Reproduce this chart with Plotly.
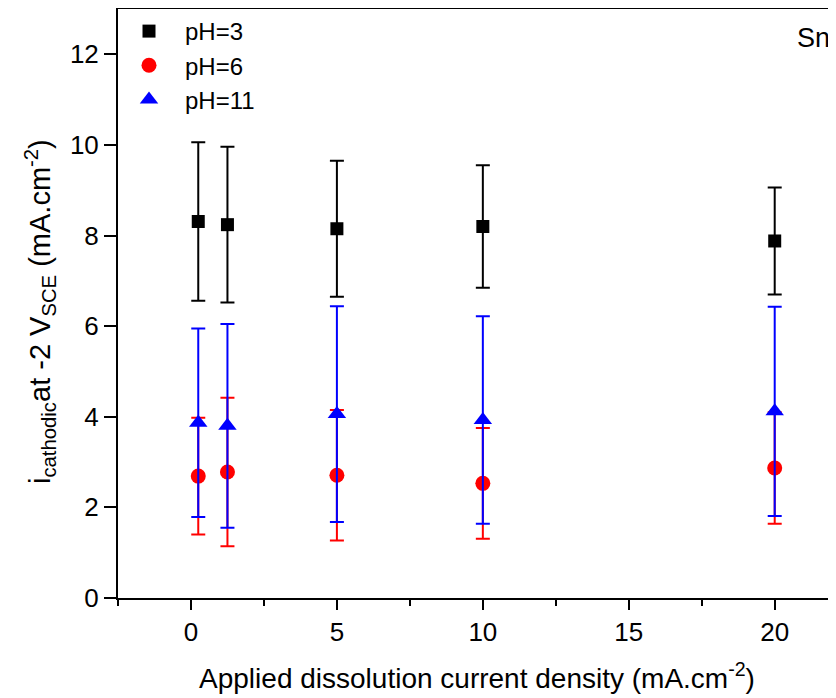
import plotly.graph_objects as go

x_vals = [0.25, 1.25, 5, 10, 20]

ph3_mean = [8.31, 8.24, 8.15, 8.20, 7.88]
ph3_err = [1.75, 1.72, 1.50, 1.35, 1.18]

ph6_mean = [2.69, 2.78, 2.71, 2.53, 2.87]
ph6_err = [1.29, 1.64, 1.44, 1.22, 1.23]

ph11_mean = [3.87, 3.80, 4.06, 3.93, 4.12]
ph11_err = [2.08, 2.25, 2.38, 2.29, 2.31]

series_names = ["pH=3", "pH=6", "pH=11"]
x_ticks = [0, 5, 10, 15, 20]
y_ticks = [0, 2, 4, 6, 8, 10, 12]

FONT = "Liberation Sans, Arial, sans-serif"

# page body adds an 8px offset; figure sized to fit the window
W, H = 828, 690
L, R, T, B = 110, 0, 1, 100
PW, PH = W - L - R, H - T - B

fig = go.Figure()

fig.add_trace(go.Scatter(
    x=x_vals, y=ph3_mean, mode="markers", name=series_names[0],
    marker=dict(symbol="square", size=13, color="black"),
    error_y=dict(type="data", array=ph3_err, color="black", thickness=2, width=7),
))
fig.add_trace(go.Scatter(
    x=x_vals, y=ph6_mean, mode="markers", name=series_names[1],
    marker=dict(symbol="circle", size=15, color="#ff0000"),
    error_y=dict(type="data", array=ph6_err, color="#ff0000", thickness=2, width=7),
))
fig.add_trace(go.Scatter(
    x=x_vals, y=ph11_mean, mode="markers", name=series_names[2],
    marker=dict(symbol="triangle-up", size=16, color="#0000ff"),
    error_y=dict(type="data", array=ph11_err, color="#0000ff", thickness=2, width=7),
))

fig.add_annotation(
    x=(787 - L) / PW, y=(H - B - 30) / PH, xref="paper", yref="paper", text="Sn",
    showarrow=False, xanchor="left", yanchor="middle",
    font=dict(size=27, color="black", family=FONT),
)

# y-axis title as rotated annotation so its centre can match the reference
fig.add_annotation(
    x=(32 - L) / PW, y=(H - B - 304) / PH, xref="paper", yref="paper",
    text="i<sub>cathodic</sub>at -2 V<sub>SCE</sub> (mA.cm<sup>-2</sup>)",
    showarrow=False, textangle=-90, xanchor="center", yanchor="middle",
    font=dict(size=29, color="black", family=FONT),
)

fig.update_layout(
    width=W, height=H,
    margin=dict(l=L, r=R, t=T, b=B),
    paper_bgcolor="white", plot_bgcolor="white",
    font=dict(family=FONT, size=26, color="black"),
    showlegend=True,
    legend=dict(
        x=-5 / PW, y=1.0, xanchor="left", yanchor="top",
        bgcolor="rgba(0,0,0,0)", font=dict(size=24, family=FONT),
        itemsizing="trace", itemwidth=62,
    ),
    xaxis=dict(
        range=[-2.5, 22.1], tickvals=x_ticks, ticks="outside", ticklen=10, tickwidth=2,
        tickcolor="black", showline=True, linewidth=2, linecolor="black", mirror=True,
        showgrid=False, zeroline=False, tickfont=dict(size=26), automargin=False,
        ticklabelstandoff=0,
        minor=dict(dtick=2.5, tick0=0, ticks="outside", ticklen=6, tickwidth=2, tickcolor="black"),
        title=dict(text="Applied dissolution current density (mA.cm<sup>-2</sup>)",
                   font=dict(size=28), standoff=22),
    ),
    yaxis=dict(
        range=[0, 13], tickvals=y_ticks, ticks="outside", ticklen=12, tickwidth=2,
        tickcolor="black", showline=True, linewidth=2, linecolor="black", mirror=False,
        showgrid=False, zeroline=False, tickfont=dict(size=26), automargin=False,
        ticklabelstandoff=0,
    ),
)

fig.write_html("out.html")
